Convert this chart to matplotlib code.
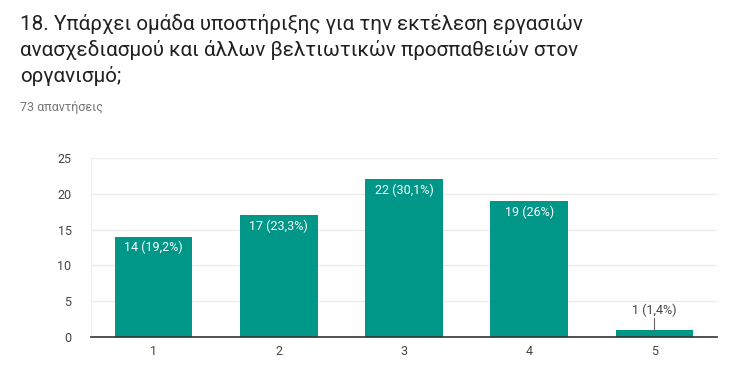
import matplotlib
matplotlib.use("Agg")
import matplotlib.pyplot as plt

plt.rcParams['font.family'] = ['Roboto', 'DejaVu Sans']

categories = ['1', '2', '3', '4', '5']
counts = [14, 17, 22, 19, 1]
labels = ['14 (19,2%)', '17 (23,3%)', '22 (30,1%)', '19 (26%)', '1 (1,4%)']
yticks = [0, 5, 10, 15, 20, 25]

title = "18. Υπάρχει ομάδα υποστήριξης για την εκτέλεση εργασιών\nανασχεδιασμού και άλλων βελτιωτικών προσπαθειών στον\nοργανισμό;"
subtitle = "73 απαντήσεις"

teal = '#009688'

fig = plt.figure(figsize=(7.39, 3.72), dpi=100)
fig.text(20/739, 1 - 14/372, title, ha='left', va='top', fontsize=14.9,
         color='#212121', linespacing=1.38)
fig.text(20/739, 1 - 108/372, subtitle, ha='left', va='center', fontsize=9,
         color='#757575')

ax = fig.add_axes([91/739, 1 - 337/372, 626/739, 179/372])
x = range(len(categories))
ax.bar(x, counts, width=0.62, color=teal, zorder=2)
ax.set_xlim(-0.5, len(categories) - 0.5)
ax.set_ylim(0, 25)
ax.set_yticks(yticks)
ax.set_xticks(list(x))
ax.set_xticklabels(categories)
ax.grid(axis='y', color='#ebebeb', linewidth=1, zorder=0)
for s in ['top', 'right', 'left']:
    ax.spines[s].set_visible(False)
ax.spines['bottom'].set_color('#333333')
ax.spines['bottom'].set_linewidth(1.2)
ax.tick_params(axis='both', length=0, labelsize=9, colors='#444444')
ax.tick_params(axis='y', pad=14)
ax.tick_params(axis='x', pad=6)
# faint plot frame
ax.axvline(-0.5, color='#f0f0f0', lw=1, zorder=0)

for i, (c, lab) in enumerate(zip(counts, labels)):
    if c >= 3:
        ax.text(i, c - 0.6, lab, ha='center', va='top', color='white',
                fontsize=9, zorder=3)
    else:
        ax.plot([i, i], [c, c + 1.6], color='#666666', lw=0.8, zorder=3)
        ax.text(i, c + 1.8, lab, ha='center', va='bottom', color='#444444',
                fontsize=9, zorder=3)

fig.savefig('out.png', dpi=100)
